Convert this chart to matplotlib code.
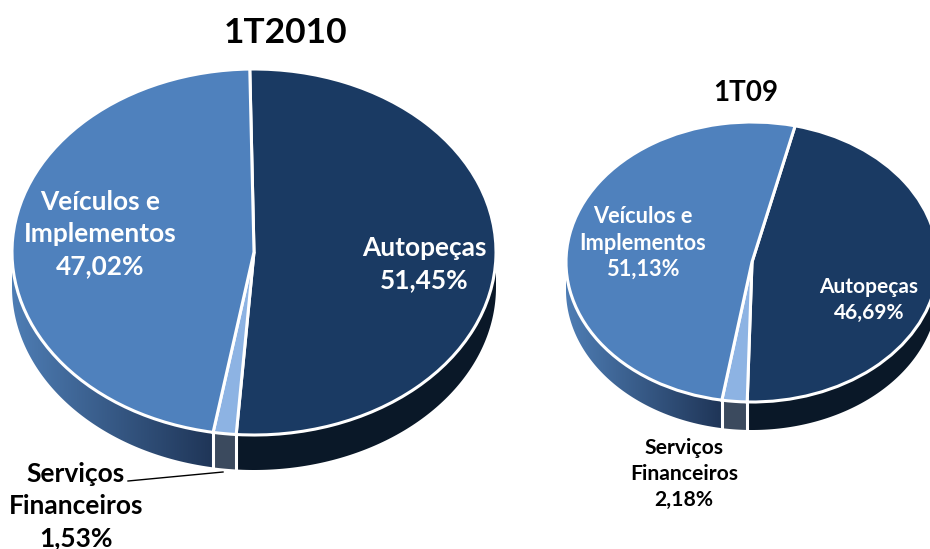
import matplotlib
matplotlib.use("Agg")
import matplotlib.pyplot as plt
import numpy as np
from matplotlib.colors import LinearSegmentedColormap
from matplotlib.patches import Polygon

plt.rcParams["font.family"] = ["Lato", "DejaVu Sans"]
plt.rcParams["font.weight"] = "bold"

W, H = 930, 549

# slices clockwise: Autopecas, Servicos, Veiculos
shares_2010 = [51.45, 1.53, 47.02]
shares_09 = [46.69, 2.18, 51.13]

top_colors = ["#1A3A63", "#8DB3E3", "#4F81BD"]
wall_colors = ["#0A1828", "#3B4A5E", None]
wall_cmap = LinearSegmentedColormap.from_list("wall", ["#4E7DB4", "#1F3557"])

fig = plt.figure(figsize=(W / 100, H / 100), dpi=100)


def txt(x, y, s, size, color="black", spacing=1.22):
    fig.text(x / W, 1 - y / H, s, fontsize=size, color=color, ha="center", va="center",
             linespacing=spacing)


def pct(v):
    return "{:.2f}%".format(v).replace(".", ",")


def wall_poly(t0, t1, depth):
    t = np.radians(np.linspace(t0, t1, 120))
    top = np.c_[np.cos(t), np.sin(t)]
    bot = np.c_[np.cos(t), np.sin(t) - depth][::-1]
    return np.vstack([top, bot])


def draw_pie(cx, cy, rx, ry, depth_px, start, shares, lw):
    # one axes per pie, data units are the pie radius so the pie comes out elliptic
    depth = depth_px / ry
    ax = fig.add_axes([(cx - rx) / W, 1 - (cy + ry + depth_px) / H,
                       2 * rx / W, (2 * ry + depth_px) / H])
    ang = start
    for share, wall in zip(shares, wall_colors):
        a0 = ang - share * 3.6
        # only the front half of the rim shows
        lo = max(a0, -180)
        hi = min(ang, 0)
        if lo < hi:
            poly = wall_poly(lo, hi, depth)
            if wall is None:
                p = Polygon(poly, closed=True, transform=ax.transData, fc="none", ec="none")
                ax.add_patch(p)
                im = ax.imshow(np.linspace(0, 1, 256).reshape(1, -1), cmap=wall_cmap,
                               extent=(poly[:, 0].min(), poly[:, 0].max(), -1 - depth, 0),
                               aspect="auto", zorder=0.5)
                im.set_clip_path(p)
            else:
                ax.add_patch(Polygon(poly, closed=True, fc=wall, ec="none", zorder=0.5))
            # white seam on the rim at the slice end
            if -180 < hi < 0:
                x = np.cos(np.radians(hi))
                y = np.sin(np.radians(hi))
                ax.plot([x, x], [y, y - depth], color="white", lw=lw, zorder=0.7)
        ang = a0
    ax.pie(shares, colors=top_colors, startangle=start, counterclock=False, radius=1,
           wedgeprops={"edgecolor": "white", "linewidth": lw})
    ax.set_aspect("auto")
    ax.set_xlim(-1, 1)
    ax.set_ylim(-1 - depth, 1)
    ax.axis("off")
    return ax


draw_pie(254, 252, 242, 183, 35, 91, shares_2010, 2.2)
draw_pie(752, 262, 186, 140, 28, 76.6, shares_09, 2.2)

txt(286, 33, "1T2010", 25.5)
txt(746, 93, "1T09", 20)

txt(424, 264, "Autopeças\n" + pct(shares_2010[0]), 18.9, "white", 1.4)
txt(100, 234, "Veículos e\nImplementos\n" + pct(shares_2010[2]), 18.9, "white", 1.4)
txt(76, 506, "Serviços\nFinanceiros\n" + pct(shares_2010[1]), 19, spacing=1.4)
fig.add_artist(plt.Line2D([128 / W, 223 / W], [1 - 481 / H, 1 - 472 / H], color="black", lw=1))

txt(869, 300, "Autopeças\n" + pct(shares_09[0]), 15, "white", 1.35)
txt(643, 243, "Veículos e\nImplementos\n" + pct(shares_09[2]), 15.7, "white", 1.3)
txt(684, 474, "Serviços\nFinanceiros\n" + pct(shares_09[1]), 15.2, spacing=1.35)

fig.savefig("out.png", dpi=100)
